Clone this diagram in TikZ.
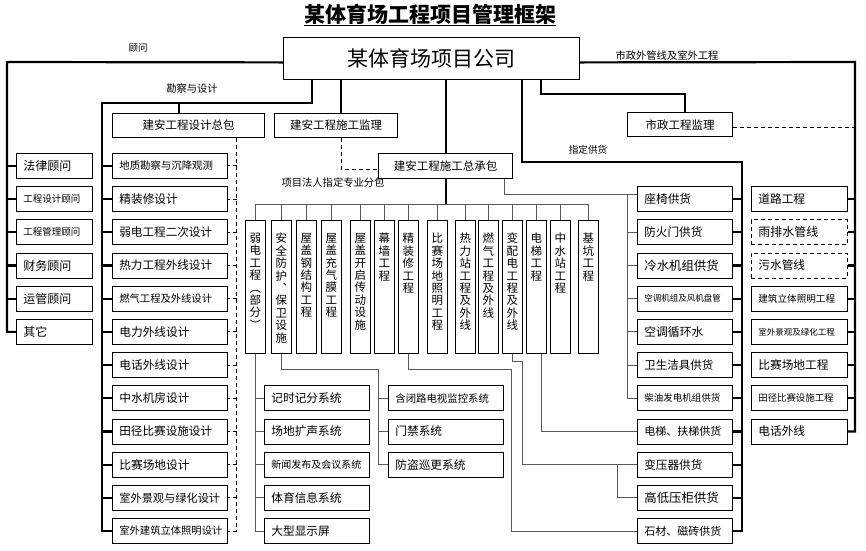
\documentclass[tikz,border=0pt]{standalone}
\usepackage{fontspec}
\setmainfont{Noto Sans CJK SC}
\usetikzlibrary{positioning,calc}
\tikzset{
  kasten/.style={draw, line width=0.7pt, anchor=north west, minimum height=25pt, inner ysep=0pt, inner xsep=7pt, align=left},
  kopf/.style={draw, line width=1.2pt, anchor=north west, minimum height=24pt, inner sep=0pt, font=\fontsize{11.5}{11.5}\selectfont},
  hochkasten/.style={draw, line width=0.7pt, anchor=north west, minimum width=20pt, minimum height=133pt, inner sep=0pt},
  hochtext/.style={anchor=north, inner sep=0pt, align=center, font=\fontsize{11.5}{12.4}\selectfont},
  stamm/.style={line width=2.2pt},
  zweig/.style={line width=0.8pt, draw=black!65},
  strichlinie/.style={line width=0.8pt, dash pattern=on 4pt off 3pt},
  beschriftung/.style={inner sep=0pt, font=\fontsize{10.3}{10.3}\selectfont},
}
\begin{document}
\begin{tikzpicture}[x=1pt,y=-1pt]
\useasboundingbox (0,0) rectangle (866,550);
\fill[white] (0,0) rectangle (866,550);
%Titel und Firma
\node[inner sep=0pt,font=\fontsize{21}{21}\selectfont\bfseries] (titel) at (430,14) {某体育场工程项目管理框架};
\draw[line width=1.2pt] ([yshift=-1pt]titel.south west) -- ([yshift=-1pt]titel.south east);
\node[draw,line width=0.8pt,anchor=north west,minimum width=296pt,minimum height=42pt,inner sep=0pt,font=\fontsize{21}{21}\selectfont] (corp) at (283,37) {某体育场项目公司};
\node[kopf,minimum width=152pt] (sjzb) at (112,113) {建安工程设计总包};
\node[kopf,minimum width=123pt] (sgjl) at (274,113) {建安工程施工监理};
\node[kopf,minimum width=134pt,minimum height=25pt] (zcb) at (378,153) {建安工程施工总承包};
\node[kopf,minimum width=105pt] (szjl) at (627,112) {市政工程监理};
%Beschriftungen
\node[beschriftung,font=\fontsize{9.5}{9.5}\selectfont] (lgu) at (138,48) {顾问};
\node[beschriftung] (lkc) at (192,89) {勘察与设计};
\node[beschriftung] (lmz) at (667,56) {市政外管线及室外工程};
\node[beschriftung,font=\fontsize{9.6}{9.6}\selectfont] (lzg) at (588,150) {指定供货};
\node[beschriftung] (lfb) at (333,183) {项目法人指定专业分包};
%Zeilen: y = 153 + i*33.2
\foreach \i/\txt/\fs in {0/法律顾问/12,1/工程设计顾问/9.5,2/工程管理顾问/9.5,3/财务顾问/12,4/运管顾问/12,5/其它/12}{
  \pgfmathsetmacro{\yy}{153+\i*33.2}
  \node[kasten,text width=62pt,font=\fontsize{\fs}{\fs}\selectfont] (adv\i) at (16,\yy) {\txt};
}
\foreach \i/\txt/\fs in {0/地质勘察与沉降观测/10.4,1/精装修设计/11.7,2/弱电工程二次设计/11.6,3/热力工程外线设计/11.6,4/燃气工程及外线设计/10.3,5/电力外线设计/11.7,6/电话外线设计/11.7,7/中水机房设计/11.7,8/田径比赛设施设计/11.6,9/比赛场地设计/11.7,10/室外景观与绿化设计/11.2,11/室外建筑立体照明设计/10.3}{
  \pgfmathsetmacro{\yy}{153+\i*33.2}
  \node[kasten,text width=101pt,font=\fontsize{\fs}{\fs}\selectfont] (des\i) at (112,\yy) {\txt};
}
\foreach \i/\txt/\fs in {1/座椅供货/11.7,2/防火门供货/11.6,3/冷水机组供货/12.4,4/空调机组及风机盘管/8.5,5/空调循环水/11.8,6/卫生洁具供货/11.5,7/柴油发电机组供货/9.5,8/电梯、扶梯供货/11,9/变压器供货/11.6,10/高低压柜供货/12.4,11/石材、磁砖供货/11}{
  \pgfmathsetmacro{\yy}{153+\i*33.2}
  \node[kasten,text width=81pt,font=\fontsize{\fs}{\fs}\selectfont] (sup\i) at (637,\yy) {\txt};
}
\foreach \i/\txt/\fs in {1/道路工程/11.7,4/建筑立体照明工程/9.6,5/室外景观及绿化工程/8.5,6/比赛场地工程/11.7,7/田径比赛设施工程/9.4,8/电话外线/11.7}{
  \pgfmathsetmacro{\yy}{153+\i*33.2}
  \node[kasten,text width=82pt,font=\fontsize{\fs}{\fs}\selectfont] (mun\i) at (751,\yy) {\txt};
}
\foreach \i/\txt/\fs in {2/雨排水管线/12,3/污水管线/11.7}{
  \pgfmathsetmacro{\yy}{153+\i*33.2}
  \node[kasten,dash pattern=on 4pt off 3pt,text width=82pt,font=\fontsize{\fs}{\fs}\selectfont] (mun\i) at (751,\yy) {\txt};
}
\foreach \i/\txt/\fs in {0/记时记分系统/11.7,1/场地扩声系统/11.7,2/新闻发布及会议系统/10,3/体育信息系统/11.7,4/大型显示屏/11.7}{
  \pgfmathsetmacro{\yy}{153+(\i+7)*33.2}
  \node[kasten,text width=91pt,font=\fontsize{\fs}{\fs}\selectfont] (weak\i) at (264,\yy) {\txt};
}
\foreach \i/\txt/\fs in {0/含闭路电视监控系统/10.4,1/门禁系统/11.7,2/防盗巡更系统/11.7}{
  \pgfmathsetmacro{\yy}{153+(\i+7)*33.2}
  \node[kasten,text width=101pt,font=\fontsize{\fs}{\fs}\selectfont] (sec\i) at (388,\yy) {\txt};
}
%Fachplanung senkrecht
\foreach \i/\xl/\txt in {1/245/{弱\\电\\工\\程\\︵\\部\\分\\︶},2/271/{安\\全\\防\\护\\︑\\保\\卫\\设\\施},3/296/{屋\\盖\\钢\\结\\构\\工\\程},4/321/{屋\\盖\\充\\气\\膜\\工\\程},5/350/{屋\\盖\\开\\启\\传\\动\\设\\施},6/374/{幕\\墙\\工\\程},7/398/{精\\装\\修\\工\\程},8/427/{比\\赛\\场\\地\\照\\明\\工\\程},9/455/{热\\力\\站\\工\\程\\及\\外\\线},10/478/{燃\\气\\工\\程\\及\\外\\线},11/502/{变\\配\\电\\工\\程\\及\\外\\线},12/526/{电\\梯\\工\\程},13/550/{中\\水\\站\\工\\程},14/578/{基\\坑\\工\\程}}{
  \node[hochkasten] (v\i) at (\xl,220) {};
  \node[hochtext,yshift=-13pt] (t\i) at (v\i.north) {\txt};
}
%Berater
\coordinate (gu) at (7,62);
\draw[stamm] ([yshift=-4pt]corp.west) -- (gu) |- (adv5.west);
\foreach \i in {0,...,4} \draw[stamm] (gu |- adv\i.west) -- (adv\i.west);
%Planung
\coordinate (kc) at (312,103);
\coordinate (kcL) at (102,103);
\draw[stamm] (corp.south -| kc) -- (kc) -- (kcL) |- (des11.west);
\draw[stamm] ([xshift=-10pt]sjzb.north) |- (kc);
\foreach \i in {0,...,10} \draw[stamm] (kcL |- des\i.west) -- (des\i.west);
\coordinate (sjD) at ([xshift=48pt]sjzb.south);
\draw[strichlinie] (sjD) |- (des11.east);
\foreach \i in {0,...,10} \draw[strichlinie] (sjD |- des\i.east) -- (des\i.east);
%Aufsicht und Generalunternehmer
\draw[stamm] ([xshift=5pt]sgjl.north) -- ++(0,-34);
\draw[strichlinie] ([xshift=5pt]sgjl.south) |- ([yshift=-3pt]zcb.west);
\draw[stamm] (corp.south -| zcb.north) -- (zcb.north);
\coordinate[below=25pt of zcb.south] (bus);
\draw[stamm] (zcb.south) -- (bus);
\draw[zweig] (v1.north |- bus) -- (v14.north |- bus);
\foreach \i in {1,...,14} \draw[zweig] (v\i.north |- bus) -- (v\i.north);
%Unterpunkte
\draw[zweig] (v1.south) |- (weak4.west);
\foreach \i in {0,...,3} \draw[zweig] (v1.south |- weak\i.west) -- (weak\i.west);
\coordinate (secTop) at (378,369);
\draw[zweig] (v2.south) |- (secTop) |- (sec2.west);
\foreach \i in {0,1} \draw[zweig] (secTop |- sec\i.west) -- (sec\i.west);
%Lieferungen
\coordinate (zgL) at (522,162);
\coordinate (zgR) at (742,162);
\draw[stamm] (corp.south -| zgL) -- (zgL) -- (zgR) |- (sup11.east);
\foreach \i in {1,...,10} \draw[stamm] (zgR |- sup\i.east) -- (sup\i.east);
\draw[zweig] ([xshift=-9pt]zcb.south east) |- ([yshift=5pt]sup1.west);
\coordinate (lv) at ([xshift=-10pt,yshift=5pt]sup1.west);
\draw[zweig] (lv) |- (sup7.west);
\foreach \i in {2,...,6} \draw[zweig] (lv |- sup\i.west) -- (sup\i.west);
\coordinate (jz) at (511,369);
\draw[zweig] (v7.south) |- (jz) |- (sup11.west);
\coordinate (bp) at (522,361);
\draw[zweig] (v11.south) |- (bp) |- (sup9.west);
\coordinate (bp2) at ([xshift=-20pt]sup9.west);
\draw[zweig] (bp2) |- (sup10.west);
\draw[zweig] ([xshift=5pt]v12.south) |- (sup8.west);
%Kommunal
\coordinate (szA) at (541,94);
\draw[stamm] (corp.south -| szA) -- (szA) -| ([xshift=5pt]szjl.north);
\draw[strichlinie] ([yshift=-3pt]szjl.east) -- ++(123,0);
\coordinate (mz) at (855,62);
\draw[stamm] ([yshift=-4pt]corp.east) -- (mz) |- (mun8.east);
\foreach \i in {1,...,7} \draw[stamm] (mz |- mun\i.east) -- (mun\i.east);
\end{tikzpicture}
\end{document}
